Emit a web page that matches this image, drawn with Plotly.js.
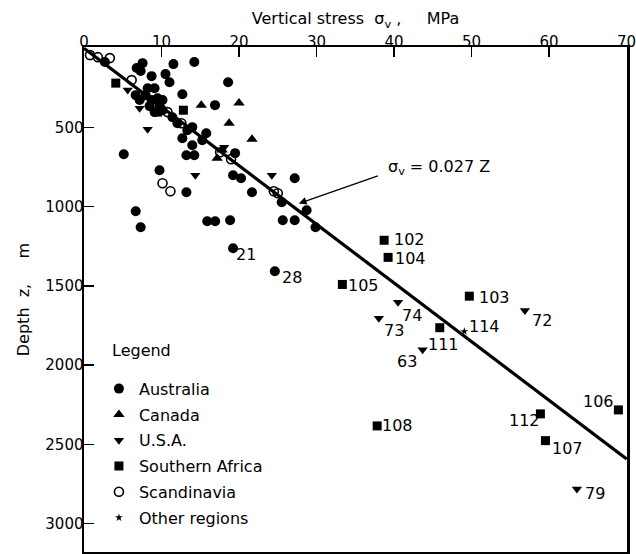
<!DOCTYPE html>
<html>
<head>
<meta charset="utf-8">
<script src="https://cdn.plot.ly/plotly-3.0.1.min.js"></script>
<style>html,body{margin:0;padding:0;background:#fff;}#chart{width:636px;height:554px;}</style>
</head>
<body>
<div id="chart"></div>
<script>
// ---- data (vertical stress in MPa, depth in m) ----
const australiaStress = [7.56, 11.54, 14.23, 7.31, 8.72, 10.51, 11.03, 18.59, 12.69, 7.95, 8.72, 9.49, 8.46, 9.74, 9.10, 10.13, 7.18, 8.21, 6.67, 9.10, 13.97, 15.26, 12.69, 15.77, 13.97, 13.21, 14.23, 5.13, 9.74, 13.21, 19.49, 19.23, 20.26, 21.67, 27.18, 6.67, 7.31, 15.90, 16.92, 18.85, 25.64, 27.18, 29.87, 28.72, 25.51, 2.69, 6.8, 11.41, 12.05, 13.33, 10.13, 16.9, 19.23, 24.62];
const australiaDepth  = [94, 100, 87, 144, 176, 163, 214, 214, 290, 296, 327, 315, 365, 359, 403, 391, 327, 252, 296, 252, 498, 580, 568, 536, 612, 675, 675, 669, 770, 909, 662, 802, 821, 909, 821, 1029, 1130, 1092, 1092, 1086, 1086, 1086, 1130, 1023, 972, 87, 125, 435, 473, 517, 327, 359, 1263, 1408];
const australiaLabel  = ['', '', '', '', '', '', '', '', '', '', '', '', '', '', '', '', '', '', '', '', '', '', '', '', '', '', '', '', '', '', '', '', '', '', '', '', '', '', '', '', '', '', '', '', '', '', '', '', '', '', '', '', '21', '28'];

const canadaStress = [15.13, 20.0, 18.72, 21.67, 17.18, 17.82];
const canadaDepth  = [360, 346, 473, 574, 694, 643];
const canadaLabel  = ['', '', '', '', '', ''];

const usaStress = [5.64, 7.18, 8.21, 14.36, 18.08, 24.23, 40.51, 38.04, 43.68, 56.88, 63.59];
const usaDepth  = [264, 378, 511, 802, 625, 802, 1604, 1704, 1903, 1655, 2782];
const usaLabel  = ['', '', '', '', '', '', '74', '73', '63', '72', '79'];

const safricaStress = [4.10, 12.82, 9.49, 38.72, 39.23, 33.33, 49.71, 45.90, 37.82, 58.88, 59.53, 68.94];
const safricaDepth  = [220, 391, 403, 1212, 1320, 1491, 1565, 1764, 2384, 2308, 2477, 2283];
const safricaLabel  = ['', '', '', '102', '104', '105', '103', '111', '108', '112', '107', '106'];

const scandStress = [0.77, 1.79, 3.33, 6.15, 10.77, 12.56, 17.56, 18.97, 10.13, 11.15, 24.49, 25.0];
const scandDepth  = [43, 56, 62, 201, 403, 473, 656, 700, 852, 903, 903, 915];
const scandLabel  = ['', '', '', '', '', '', '', '', '', '', '', ''];

const otherStress = [49.06];
const otherDepth  = [1788];
const otherLabel  = ['114'];

// fitted line sigma_v = 0.027 z (end points)
const lineStress = [0, 70];
const lineDepth  = [0, 2593];

const xTicks = [0, 10, 20, 30, 40, 50, 60, 70];
const yTicks = [500, 1000, 1500, 2000, 2500, 3000];

// ---- styles ----
const FONT = 'DejaVu Sans, Verdana, sans-serif';
const labelOffsets = {
  '21': [13, 6], '28': [17, 6.5], '74': [14, 13], '73': [15, 12], '63': [-16, 12], '72': [17, 10], '79': [18, 5],
  '102': [25, -1], '104': [22, 1], '105': [21, 1], '103': [25, 1], '111': [4, 17], '108': [20, 0],
  '112': [-16, 7], '107': [22, 7.5], '106': [-20, -8], '114': [20, -5]
};

const series = [
  {name: 'Australia', x: australiaStress, y: australiaDepth, lab: australiaLabel, marker: {symbol: 'circle', size: 10, color: '#000'}},
  {name: 'Canada', x: canadaStress, y: canadaDepth, lab: canadaLabel, marker: {symbol: 'triangle-up', size: 10, color: '#000'}},
  {name: 'U.S.A.', x: usaStress, y: usaDepth, lab: usaLabel, marker: {symbol: 'triangle-down', size: 9, color: '#000'}},
  {name: 'Southern Africa', x: safricaStress, y: safricaDepth, lab: safricaLabel, marker: {symbol: 'square', size: 9, color: '#000'}},
  {name: 'Scandinavia', x: scandStress, y: scandDepth, lab: scandLabel, marker: {symbol: 'circle-open', size: 9, color: '#000', line: {width: 1.6, color: '#000'}}},
  {name: 'Other regions', x: otherStress, y: otherDepth, lab: otherLabel, marker: {symbol: 'star', size: 6, color: '#000'}}
];

const traces = [{
  x: lineStress, y: lineDepth, mode: 'lines', line: {color: '#000', width: 3.2},
  showlegend: false, hoverinfo: 'skip'
}];
const annotations = [];
series.forEach(function (s, i) {
  traces.push({
    x: s.x, y: s.y, name: s.name, mode: 'markers', type: 'scatter',
    marker: s.marker, legendgroup: 'g' + i, cliponaxis: false
  });
  s.lab.forEach(function (t, j) {
    if (!t) return;
    const off = labelOffsets[t] || [15, 0];
    annotations.push({
      x: s.x[j], y: s.y[j], xref: 'x', yref: 'y', text: t, showarrow: false,
      xanchor: 'center', yanchor: 'middle', xshift: off[0], yshift: -off[1],
      font: {family: FONT, size: 16, color: '#000'}
    });
  });
});

annotations.push({
  x: 45.8, y: 751, xref: 'x', yref: 'y', showarrow: false,
  text: 'σ<sub>v</sub> = 0.027 Z', xanchor: 'center', yanchor: 'middle',
  font: {family: FONT, size: 16, color: '#000'}
});
annotations.push({
  x: 27.7, y: 980, xref: 'x', yref: 'y', ax: 38.1, ay: 802, axref: 'x', ayref: 'y',
  text: '', showarrow: true, arrowhead: 2, arrowsize: 1.2, arrowwidth: 1.3, arrowcolor: '#000'
});
annotations.push({
  x: 0.0476, y: 0.40, xref: 'paper', yref: 'paper', showarrow: false,
  text: 'Legend', xanchor: 'left', yanchor: 'middle',
  font: {family: FONT, size: 16, color: '#000'}
});

const layout = {
  width: 636, height: 554,
  margin: {l: 84, r: 9, t: 47, b: 2},
  paper_bgcolor: '#fff', plot_bgcolor: '#fff',
  font: {family: FONT, size: 15, color: '#000'},
  showlegend: true,
  legend: {
    x: 0.0275, y: 0.357, xanchor: 'left', yanchor: 'top',
    bgcolor: 'rgba(0,0,0,0)', borderwidth: 0, tracegroupgap: 2,
    font: {family: FONT, size: 16, color: '#000'}
  },
  xaxis: {
    side: 'top', range: [0, 70.05], tickvals: xTicks, ticktext: xTicks.map(String),
    ticks: 'inside', ticklen: 10, tickwidth: 1.5, tickcolor: '#000',
    ticklabelstandoff: -8, ticklabeloverflow: 'allow',
    showline: true, linewidth: 2.5, linecolor: '#000', mirror: true,
    showgrid: false, zeroline: false,
    tickfont: {family: FONT, size: 15, color: '#000'},
    title: {text: 'Vertical stress  σ<sub>v</sub> ,\u00A0\u00A0\u00A0\u00A0\u00A0MPa', standoff: 4, font: {family: FONT, size: 16, color: '#000'}}
  },
  yaxis: {
    range: [3180, -8], tickvals: yTicks, ticktext: yTicks.map(String),
    ticks: 'inside', ticklen: 10, tickwidth: 1.5, tickcolor: '#000',
    ticklabelstandoff: -5,
    showline: true, linewidth: 2.5, linecolor: '#000', mirror: true,
    showgrid: false, zeroline: false,
    tickfont: {family: FONT, size: 15, color: '#000'},
    title: {text: 'Depth  z,\u00A0\u00A0\u00A0\u00A0\u00A0m', standoff: 12, font: {family: FONT, size: 16, color: '#000'}}
  },
  annotations: annotations
};

Plotly.newPlot('chart', traces, layout, {staticPlot: true, displayModeBar: false});
</script>
</body>
</html>
